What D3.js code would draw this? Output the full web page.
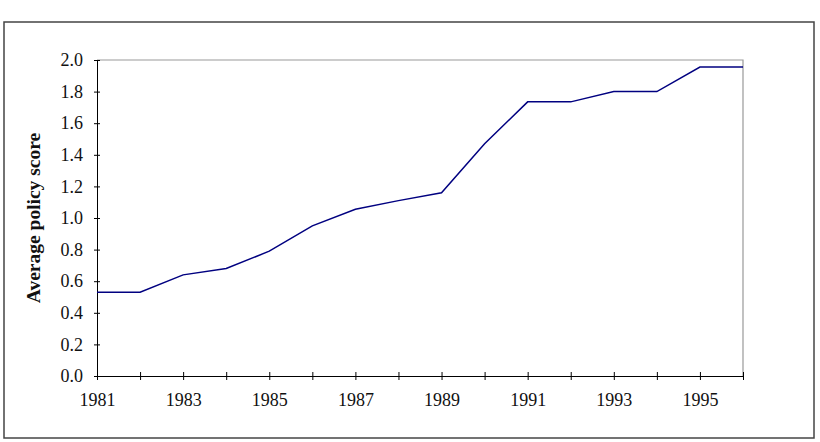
<!DOCTYPE html>
<html><head><meta charset="utf-8">
<script src="https://cdn.jsdelivr.net/npm/d3@7"></script>
<style>body{margin:0;background:#fff}svg{display:block}</style>
</head><body>
<script>
const years = [1981,1982,1983,1984,1985,1986,1987,1988,1989,1990,1991,1992,1993,1994,1995,1996];
const scores = [0.53,0.53,0.64,0.68,0.79,0.95,1.055,1.11,1.16,1.47,1.735,1.735,1.80,1.80,1.955,1.955];
const xTickLabels = [1981,1983,1985,1987,1989,1991,1993,1995];
const yTicks = [0,0.2,0.4,0.6,0.8,1.0,1.2,1.4,1.6,1.8,2.0];
const yTitle = "Average policy score";

const W=820,H=442;
const svg=d3.select("body").append("svg").attr("width",W).attr("height",H);
const font="'Liberation Serif','Times New Roman',serif";

svg.append("rect").attr("x",4).attr("y",22).attr("width",810).attr("height",416)
  .attr("fill","#fff").attr("stroke","#444").attr("stroke-width",1.5);

const L=97,R=743,T=60,B=376;
const x=d3.scaleLinear().domain([1981,1996]).range([L,R]);
const y=d3.scaleLinear().domain([0,2]).range([B,T]);

// plot frame top/right
svg.append("path").attr("d",`M${L},${T}H${R}V${B}`).attr("fill","none").attr("stroke","#999").attr("stroke-width",1.2);

// y axis
const ya=svg.append("g").attr("transform",`translate(${L},0)`)
  .call(d3.axisLeft(y).tickValues(yTicks).tickFormat(d3.format(".1f")).tickSizeInner(4).tickSizeOuter(0).tickPadding(10));
ya.attr("font-size",null).attr("font-family",null);
ya.selectAll(".tick line").attr("x1",3).attr("x2",-3);
ya.select(".domain").attr("stroke","#000");
ya.selectAll("text").style("font-family",font).style("font-size","18px").attr("fill","#111");

// x axis
const xa=svg.append("g").attr("transform",`translate(0,${B})`)
  .call(d3.axisBottom(x).tickValues(years).tickFormat(d=>xTickLabels.includes(d)?d:"").tickSizeInner(4).tickSizeOuter(0).tickPadding(13));
xa.attr("font-size",null).attr("font-family",null);
xa.selectAll(".tick line").attr("y1",-4).attr("y2",4);
xa.select(".domain").attr("stroke","#000");
xa.selectAll("text").style("font-family",font).style("font-size","18px").attr("fill","#111");

// line
svg.append("path").datum(years.map((yr,i)=>[yr,scores[i]]))
  .attr("d",d3.line().x(d=>x(d[0])).y(d=>y(d[1])))
  .attr("fill","none").attr("stroke","#000080").attr("stroke-width",1.5);

// y title
svg.append("text").attr("transform",`translate(40,${(T+B)/2}) rotate(-90)`)
  .attr("text-anchor","middle").style("font-family",font).style("font-weight","bold")
  .style("font-size","19.5px").attr("fill","#111").text(yTitle);
</script>
</body></html>
